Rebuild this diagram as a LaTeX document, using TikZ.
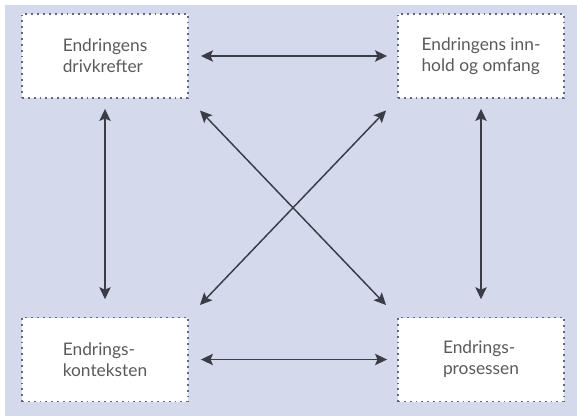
\documentclass[tikz,border=0pt]{standalone}
\usepackage{fontspec}
\setmainfont{Lato}
\usepackage{tikz}
\usetikzlibrary{arrows.meta,calc}

\definecolor{bgblue}{HTML}{D4DAEC}
\definecolor{boxline}{HTML}{5E6884}
\definecolor{arrline}{HTML}{3A3C48}
\definecolor{txtgrey}{HTML}{5A5A5A}

\begin{document}
\begin{tikzpicture}
	[
	 x = 0.75pt,
	 y = -0.75pt,
	 every node/.style = {shape=rectangle,
		                  draw = boxline,
		                  fill = white,
		                  align = left,
		                  text = txtgrey,
	                      font = \fontsize{13}{15.75}\selectfont,
	                      minimum width = 124.5pt,
	                      minimum height = 63pt,
	                      line width = 1.4pt,
	                      dash pattern = on 1.4pt off 3pt
                         },
    LINK/.style = {draw = arrline,
                   line width = 1.1pt,
                   {Stealth[length=9pt,width=8.5pt,inset=1.8pt]}-{Stealth[length=9pt,width=8.5pt,inset=1.8pt]}},
    H/.style = {LINK, shorten < = 9pt, shorten > = 7.5pt},
    V/.style = {LINK, shorten < = 7.5pt, shorten > = 13pt},
    D/.style = {LINK, shorten < = 12pt, shorten > = 12pt}
	]
	
	\newcommand{\TxtDrv}{Endringens\\drivkrefter}
	\newcommand{\TxtInn}{Endringens inn-\\hold og omfang}
	\newcommand{\TxtKon}{Endrings-\\konteksten}
	\newcommand{\TxtPro}{Endrings-\\prosessen}

	% frame
	\useasboundingbox (0,0) rectangle (577,416);
	\fill [bgblue] (5,5) rectangle (577,416);

	\node (drv) at (105,56)    {\TxtDrv};
	\node (inn) at (481,56)    {\TxtInn};
	\node (kon) at (105,359.5) {\TxtKon};
	\node (pro) at (481,359.5) {\TxtPro};

	\draw [H] (drv.east) -- (inn.west);
	\draw [H] (kon.east) -- (pro.west);
	\draw [V] (drv.south) -- (kon.north);
	\draw [V] (inn.south) -- (pro.north);
	\draw [D] (drv.south east) -- (pro.north west);
	\draw [D] (inn.south west) -- (kon.north east);
\end{tikzpicture}
\end{document}
